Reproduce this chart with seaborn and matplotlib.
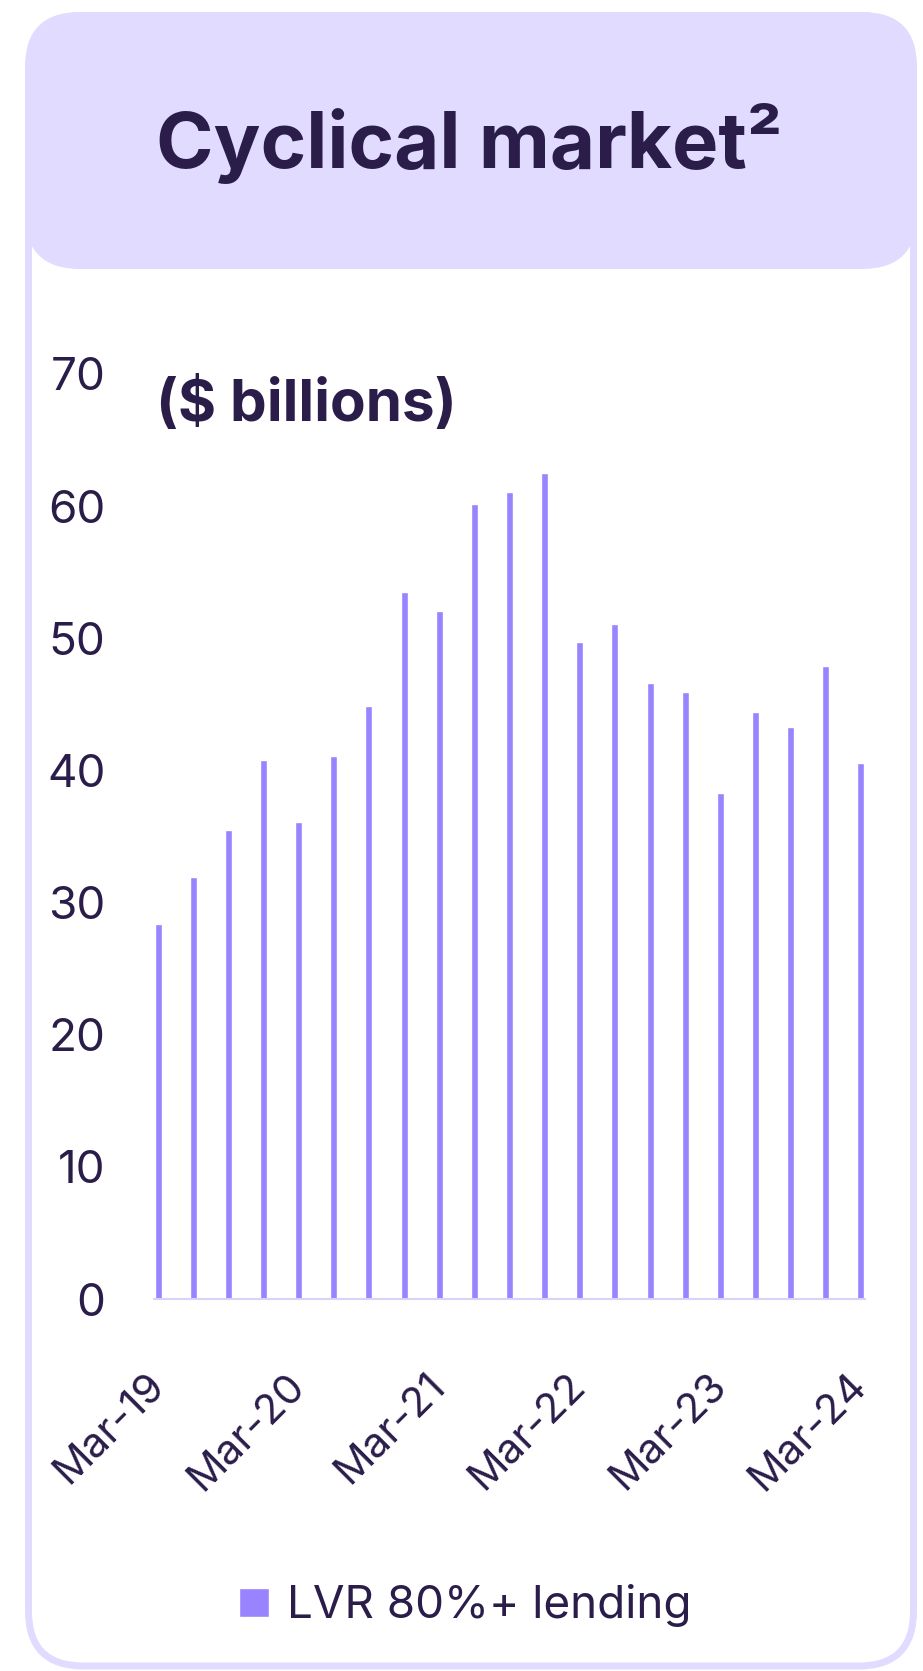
import matplotlib
matplotlib.use("Agg")
import matplotlib.pyplot as plt
import matplotlib.patches as mpatches
from matplotlib.transforms import IdentityTransform
import numpy as np
import pandas as pd
import seaborn as sns

# quarterly LVR 80%+ lending, $ billions
quarters = ["Mar-19", "Jun-19", "Sep-19", "Dec-19",
            "Mar-20", "Jun-20", "Sep-20", "Dec-20",
            "Mar-21", "Jun-21", "Sep-21", "Dec-21",
            "Mar-22", "Jun-22", "Sep-22", "Dec-22",
            "Mar-23", "Jun-23", "Sep-23", "Dec-23",
            "Mar-24"]
lending = [28.4, 31.9, 35.5, 40.8, 36.1, 41.1, 44.9, 53.5, 52.1, 60.2, 61.1,
           62.5, 49.7, 51.1, 46.6, 45.9, 38.3, 44.4, 43.3, 47.9, 40.6]
shown_ticks = ["Mar-19", "Mar-20", "Mar-21", "Mar-22", "Mar-23", "Mar-24"]
y_ticks = [0, 10, 20, 30, 40, 50, 60, 70]

df = pd.DataFrame({"quarter": quarters, "lending": lending})

TEXT = "#2b1d4a"
BAR = "#9983ff"
LAV = "#e0dbff"
W, H = 923, 1671

sns.set_theme(style="white")
plt.rcParams["font.family"] = ["Inter", "DejaVu Sans"]

fig = plt.figure(figsize=(W / 100, H / 100), dpi=100)
fig.patch.set_facecolor("white")

# card outline and header
card = mpatches.FancyBboxPatch((28.5, 5), 885, H - 20.5,
                               boxstyle="round,pad=0,rounding_size=55",
                               facecolor="white", edgecolor=LAV, linewidth=5,
                               transform=IdentityTransform(), zorder=0)
fig.add_artist(card)
header = mpatches.FancyBboxPatch((25, H - 269), 892, 257,
                                 boxstyle="round,pad=0,rounding_size=55",
                                 facecolor=LAV, edgecolor="none",
                                 transform=IdentityTransform(), zorder=1)
fig.add_artist(header)

fig.text(0.508, 0.9144, "Cyclical market²", ha="center", va="center",
         fontsize=56, fontweight="bold", color=TEXT, zorder=2)

ax = fig.add_axes([154 / W, (H - 1299) / H, 711 / W, (1299 - 374) / H])
ax.set_facecolor("none")
sns.barplot(data=df, x="quarter", y="lending", color=BAR, width=0.2,
            saturation=1, label="LVR 80%+ lending", ax=ax)

ax.set_xlim(-0.12, 20.12)
ax.set_ylim(0, 70)
ax.set_yticks(y_ticks)
ax.set_yticklabels([str(v) for v in y_ticks], fontsize=33,
                   fontweight="normal", color=TEXT)
pos = [quarters.index(q) for q in shown_ticks]
ax.set_xticks(pos)
ax.set_xticklabels(shown_ticks, fontsize=30, fontweight="normal", color=TEXT,
                   rotation=45, ha="right", va="center", rotation_mode="anchor")
ax.tick_params(axis="y", length=0, pad=35)
ax.tick_params(axis="x", length=0, pad=58)
ax.set_xlabel("")
ax.set_ylabel("")
for side in ["top", "right", "left"]:
    ax.spines[side].set_visible(False)
ax.spines["bottom"].set_color("#d9d2fb")
ax.spines["bottom"].set_linewidth(1.5)

fig.text(156 / W, (H - 405) / H, "($ billions)", ha="left", va="center",
         fontsize=42, fontweight="bold", color=TEXT)

ax.legend(loc="center", bbox_to_anchor=(0.504, 0.039),
          bbox_transform=fig.transFigure, frameon=False, fontsize=33,
          handlelength=0.65, handleheight=0.6, handletextpad=0.4,
          labelcolor=TEXT)

fig.savefig("out.png", dpi=100, facecolor=fig.get_facecolor())
